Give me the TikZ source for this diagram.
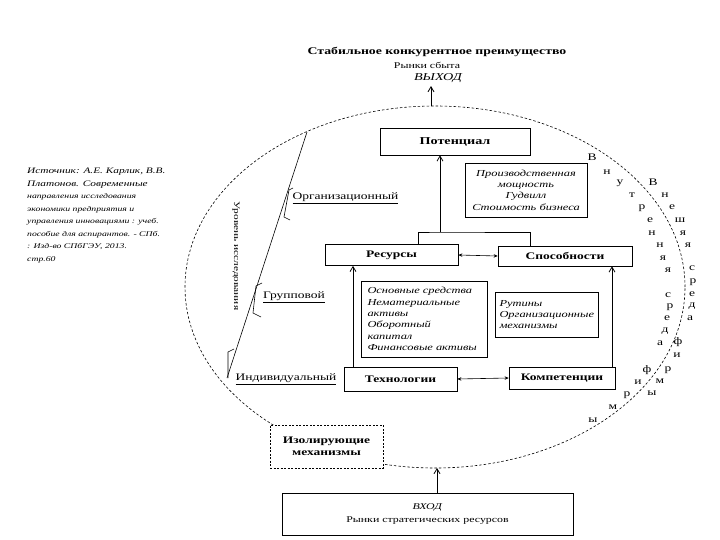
\documentclass[tikz,border=0pt]{standalone}
\usepackage{fontspec}
\setmainfont{Liberation Serif}[FakeStretch=1.35]
\usetikzlibrary{arrows.meta}
\begin{document}
\begin{tikzpicture}[x=1pt,y=-1pt,
  box/.style={draw, line width=0.7pt, fill=white, inner sep=0pt},
  blab/.style={font=\bfseries\fontsize{10}{12}\selectfont},
  ilist/.style={font=\itshape\fontsize{9.2}{11.3}\selectfont},
  lvl/.style={font=\fontsize{10}{12}\selectfont, inner sep=0pt},
  lett/.style={font=\fontsize{10}{11}\selectfont, inner sep=0pt},
  arr/.style={-{Straight Barb[length=5pt,width=6pt]}, line width=0.8pt},
  darr/.style={{Stealth[length=4pt,width=3.5pt]}-{Stealth[length=4pt,width=3.5pt]}, line width=0.6pt},
  ell/.style={dash pattern=on 2.5pt off 2pt, line width=0.6pt}]
\useasboundingbox (0,0) rectangle (720,540);
\fill[white] (0,0) rectangle (720,540);

% header
\node[font=\bfseries\fontsize{10.2}{12}\selectfont] (title) at (437,52) {Стабильное конкурентное преимущество};
\node[font=\fontsize{8.8}{10}\selectfont] (sbyt) at (427,65) {Рынки сбыта};
\node[font=\itshape\fontsize{10.5}{12}\selectfont] (vyhod) at (438,78) {ВЫХОД};

% source
\node[anchor=north west, align=left, font=\itshape\fontsize{7.2}{12.5}\selectfont, inner sep=0pt] (src) at (27,168)
 {{\fontsize{8.4}{12.5}\selectfont Источник: А.Е. Карлик, В.В.}\\ {\fontsize{8.4}{12.5}\selectfont Платонов. Современные}\\ направления исследования\\ экономики предприятия и\\ управления инновациями : учеб.\\ пособие для аспирантов. - СПб.\\ : Изд-во СПбГЭУ, 2013.\\ стр.60};

% ellipse
\draw[ell] (435,287) ellipse [x radius=250pt, y radius=181pt];
\coordinate (etop) at (431,106.5);
\coordinate (ebot) at (437,468);
\draw[arr] (etop) -- (etop |- vyhod.south);

% boxes
\node[box, font=\bfseries\fontsize{10.5}{12}\selectfont, minimum width=150pt, minimum height=27pt] (pot) at (455,141.5) {Потенциал};
\node[box, ilist, align=center, minimum width=122pt, minimum height=54pt] (proizv) at (526,190)
 {Производственная\\ мощность\\ Гудвилл\\ Стоимость бизнеса};
\node[box, blab, minimum width=133pt, minimum height=21pt] (res) at (391.5,255) {Ресурсы};
\node[box, blab, minimum width=134pt, minimum height=20pt] (spos) at (565,256) {Способности};
\node[box, ilist, align=left, text width=114pt, minimum width=126pt, minimum height=76pt] (osn) at (424.5,319)
 {Основные средства\\ Нематериальные\\ активы\\ Оборотный\\ капитал\\ Финансовые активы};
\node[box, ilist, align=left, text width=94pt, minimum width=103pt, minimum height=45pt] (rut) at (546.5,314.5)
 {Рутины\\ Организационные\\ механизмы};
\node[box, blab, minimum width=113pt, minimum height=24pt] (tech) at (400.5,379) {Технологии};
\node[box, blab, minimum width=106pt, minimum height=22pt] (komp) at (562,378) {Компетенции};
\node[box, dash pattern=on 2pt off 1.5pt, align=center, minimum width=113pt, minimum height=43pt,
  font=\bfseries\fontsize{10}{12}\selectfont] (izol) at (326.5,446.5) {Изолирующие\\ механизмы};
\node[box, align=center, minimum width=291pt, minimum height=42pt, font=\fontsize{8.8}{13}\selectfont] (vhod) at (427.5,514)
 {\textit{ВХОД}\\ Рынки стратегических ресурсов};

% connectors
\coordinate (j) at (440,232);
\draw[line width=0.7pt] ([xshift=26.5pt]res.north) |- (j) -| ([xshift=-35pt]spos.north);
\draw[arr] (j) -- (j |- pot.south);
\draw[darr] (res.east) -- (spos.west);
\draw[darr] (tech.east) -- (komp.west);
\draw[arr] ([xshift=-47.5pt]tech.north) coordinate (t1) -- (t1 |- res.south);
\draw[arr] ([xshift=50pt]komp.north) coordinate (k1) -- (k1 |- spos.south);
\draw[arr] (vhod.north -| ebot) -- (ebot);

% levels
\coordinate (d1) at (307,132);
\coordinate (d2) at (227,378);
\draw[line width=0.6pt] (d1) -- (d2);
\node[font=\fontsize{8.4}{10}\selectfont, inner sep=0pt, rotate=-90] (uroven) at (236,256) {Уровень исследования};
\draw[line width=0.6pt] (293,188) -- (289,190) -- (284,217) -- (290,220);
\draw[line width=0.6pt] (262,283) -- (256,286) -- (253,313) -- (261,317);
\draw[line width=0.6pt] (234,349) -- (228,352) -- (228,378);
\node[lvl] (org) at (345.5,198) {\underline{Организационный}};
\node[lvl] (grp) at (294,297) {\underline{Групповой}};
\node[lvl] (ind) at (286,379) {\underline{Индивидуальный}};

% letters along the curve
\foreach \x/\y/\l [count=\i] in {592/157/В, 607/172/н, 620/183/у, 632/195/т, 642/208/р, 650/220/е, 652/233/н, 660/245/н, 663/258/я, 668/270/я,
  668/295/с, 670/307/р, 667/318/е, 665/331/д, 660/343/а,
  647/370/ф, 638/382/и, 627/395/р, 613/407/м, 593/420/ы}
  \node[lett] (in\i) at (\x,\y) {\l};
\foreach \x/\y/\l [count=\i] in {653/182/В, 665/195/н, 672/207/е, 680/220/ш, 683/233/я, 688/245/я,
  692/268/с, 693/282/р, 692/294/е, 692/306/д, 690/318/а,
  678/342/ф, 677/355/и, 668/370/р, 660/381/м, 652/393/ы}
  \node[lett] (out\i) at (\x,\y) {\l};
\end{tikzpicture}
\end{document}
